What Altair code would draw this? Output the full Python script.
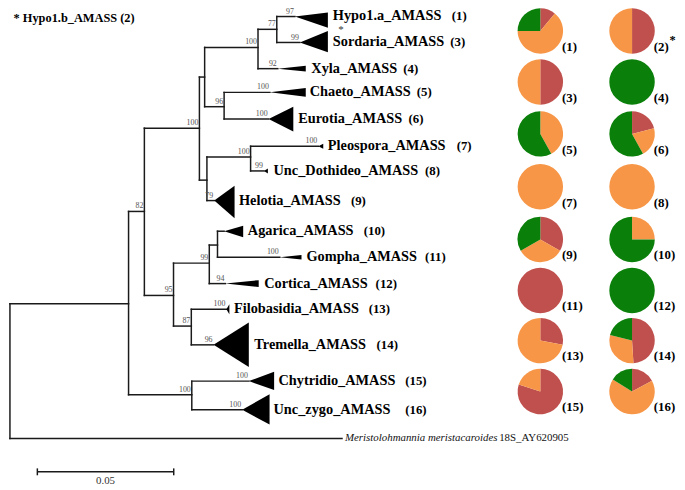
import altair as alt
import pandas as pd

# ---------------- data ----------------
# Tree nodes: name, parent, depth (x) and vertical position (y), in layout units
node_names = ["root", "A", "B", "M", "C", "I", "D", "E", "F", "G", "N77", "H", "J", "L", "K",
              "Hypo1a", "Sordaria", "Xyla", "Chaeto", "Eurotia", "Pleospora", "UncDoth", "Helotia",
              "Agarica", "Gompha", "Cortica", "Filobasidia", "Tremella", "Chytridio", "Unczygo", "Outgroup"]
node_parents = [None, "root", "A", "A", "B", "B", "C", "C", "D", "D", "F", "E", "I", "I", "J",
                "N77", "N77", "F", "G", "G", "H", "H", "E",
                "K", "K", "J", "L", "L", "M", "M", "root"]
node_x = [2.7, 130, 146, 194, 201.7, 175.5, 207, 209.3, 261, 226.7, 280, 253.5, 211.7, 193.5, 220,
          298.3, 303.3, 281, 273, 271.7, 322, 267, 216.7,
          226.7, 283, 228, 229, 216, 251.7, 245, 346]
node_y = [372, 304.3, 211, 396.5, 126.7, 296, 75, 179.3, 45, 105, 26.7, 156, 263.3, 327, 245,
          13.3, 40, 66.5, 90.5, 117.5, 145, 170, 200,
          231, 257.3, 284, 310, 346, 382.7, 411.7, 440.7]

# Bootstrap support values
support_nodes = ["B", "C", "F", "N77", "Hypo1a", "Sordaria", "Xyla", "G", "Chaeto", "Eurotia",
                 "H", "Pleospora", "UncDoth", "Helotia", "I", "J", "Cortica", "Gompha", "L",
                 "Filobasidia", "Tremella", "M", "Chytridio", "Unczygo"]
support_vals = ["82", "100", "100", "77", "97", "99", "92", "96", "100", "100",
                "100", "100", "99", "79", "95", "99", "94", "100", "87",
                "100", "96", "100", "100", "100"]

# Collapsed clades (triangle from leaf tip to right edge)
clade_leaf = ["Hypo1a", "Sordaria", "Xyla", "Chaeto", "Eurotia", "Pleospora", "UncDoth", "Helotia",
              "Agarica", "Gompha", "Cortica", "Filobasidia", "Tremella", "Chytridio", "Unczygo"]
clade_label = ["Hypo1.a_AMASS", "Sordaria_AMASS", "Xyla_AMASS", "Chaeto_AMASS", "Eurotia_AMASS",
               "Pleospora_AMASS", "Unc_Dothideo_AMASS", "Helotia_AMASS", "Agarica_AMASS",
               "Gompha_AMASS", "Cortica_AMASS", "Filobasidia_AMASS", "Tremella_AMASS",
               "Chytridio_AMASS", "Unc_zygo_AMASS"]
clade_number = ["(1)", "(3)", "(4)", "(5)", "(6)", "(7)", "(8)", "(9)", "(10)", "(11)", "(12)",
                "(13)", "(14)", "(15)", "(16)"]
clade_right = [331.7, 331.7, 309.3, 309.3, 296.7, 327, 271, 237.3, 246, 305, 261.7, 232, 251.7, 277.3, 272.7]
clade_top = [1.7, 28.3, 63.5, 86, 105, 142.5, 167.5, 185, 225.5, 255, 280.5, 305, 323.3, 373.3, 396]
clade_bottom = [25, 50, 69.5, 95, 130, 147.5, 172.5, 218, 237, 259.5, 287.5, 315, 368.3, 391.7, 426.7]
label_x = [336.7, 336.7, 315, 313.3, 301.7, 331.7, 276.7, 241.7, 250.7, 310, 267.3, 236.7, 257.3, 281.7, 276.7]
number_x = [457, 455, 401, 404, 397, 462, 430, 355, 368, 430, 380, 373, 381, 410, 410]

# Outgroup label: italic species name + accession
outgroup_parts = ["Meristolohmannia meristacaroides", "18S_AY620905"]
outgroup_x = [349, 505]

# Pie charts: proportion of each group (red, orange, green) per clade
pie_ids = ["(1)", "(2)", "(3)", "(4)", "(5)", "(6)", "(7)", "(8)", "(9)", "(10)", "(11)", "(12)",
           "(13)", "(14)", "(15)", "(16)"]
pie_red = [0.11, 0.50, 0.50, 0.00, 0.00, 0.21, 0.00, 0.00, 0.333, 0.00, 1.00, 0.00, 0.28, 0.49, 0.80, 0.17]
pie_orange = [0.64, 0.50, 0.50, 0.00, 0.42, 0.21, 1.00, 1.00, 0.333, 0.25, 0.00, 0.00, 0.72, 0.30, 0.20, 0.67]
pie_green = [0.25, 0.00, 0.00, 1.00, 0.58, 0.58, 0.00, 0.00, 0.334, 0.75, 0.00, 1.00, 0.00, 0.21, 0.00, 0.16]
pie_col_x = [546.7, 639.5]
pie_row_y = [28.3, 80, 132.5, 186, 239.3, 291, 341.7, 393.3]

groups = ["Group A", "Group B", "Group C"]
group_colors = ["#C0504D", "#F79646", "#0A800A"]

scale_bar_value = 0.05
scale_bar_start = 37.7
px_per_unit = 2760

# ---------------- text metrics (Times bold, per 1000 em) ----------------
TB = {"A": 722, "C": 722, "D": 722, "E": 667, "F": 611, "G": 778, "H": 778, "M": 944, "P": 611,
      "S": 556, "T": 667, "U": 722, "X": 722, "_": 500, ".": 250, "1": 500, "a": 500, "b": 556,
      "c": 444, "d": 556, "e": 444, "g": 500, "h": 556, "i": 278, "l": 278, "m": 833, "n": 556,
      "o": 500, "p": 556, "r": 444, "s": 389, "t": 333, "u": 556, "y": 500, "z": 444}
NAME_FS = 14.5

def text_w(s, fs):
    return sum(TB.get(ch, 556) for ch in s) * fs / 1000.0

num_x = [max(nx, lx + text_w(lb, NAME_FS) + 6) for nx, lx, lb in zip(number_x, label_x, clade_label)]

# ---------------- build tables ----------------
pos = {n: (x, y) for n, x, y in zip(node_names, node_x, node_y)}
children = {}
for n, p in zip(node_names, node_parents):
    if p is not None:
        children.setdefault(p, []).append(n)
segs = []
for n, p in zip(node_names, node_parents):
    if p is not None:
        segs.append(dict(x=pos[p][0], x2=pos[n][0], y=pos[n][1], y2=pos[n][1]))
for p, ch in children.items():
    ys = [pos[c][1] for c in ch]
    segs.append(dict(x=pos[p][0], x2=pos[p][0], y=min(ys), y2=max(ys)))
seg_df = pd.DataFrame(segs)

tri_rows = []
for leaf, r, t, b in zip(clade_leaf, clade_right, clade_top, clade_bottom):
    tx, ty = pos[leaf]
    tri_rows.append(dict(clade=leaf, x=tx, ylo=ty, yhi=ty))
    tri_rows.append(dict(clade=leaf, x=r, ylo=t, yhi=b))
tri_df = pd.DataFrame(tri_rows)

lab_df = pd.DataFrame(dict(label=clade_label, num=clade_number, lx=label_x, nx=num_x,
                           y=[pos[l][1] for l in clade_leaf]))

sup_df = pd.DataFrame(dict(x=[pos[n][0] for n in support_nodes],
                           y=[pos[n][1] for n in support_nodes], s=support_vals))

pie_rows = []
for i, pid in enumerate(pie_ids):
    cx = pie_col_x[i % 2]
    cy = pie_row_y[i // 2]
    for k, (g, v) in enumerate(zip(groups, [pie_red[i], pie_orange[i], pie_green[i]])):
        if v > 0:
            pie_rows.append(dict(pie=pid, cx=cx, cy=cy, group=g, order=k, frac=v))
pie_df = pd.DataFrame(pie_rows)
pie_lab_df = pd.DataFrame(dict(pie=pie_ids,
                               cx=[pie_col_x[i % 2] for i in range(16)],
                               cy=[pie_row_y[i // 2] for i in range(16)]))

out_y = pos["Outgroup"][1]
out_df = pd.DataFrame(dict(x=outgroup_x, y=[out_y, out_y], t=outgroup_parts))

sb_end = scale_bar_start + scale_bar_value * px_per_unit
sb_df = pd.DataFrame(dict(x=[scale_bar_start], x2=[sb_end], y=[474.3], label=[str(scale_bar_value)]))
sb_ticks = pd.DataFrame(dict(x=[scale_bar_start, sb_end], y=[471, 471], y2=[478, 478]))

# ---------------- chart ----------------
# Page coordinates map 1:1 except the strip hidden under the 8px page margin,
# which is squeezed into a few pixels so the root stays visible.
W, H = 677, 482
xs = alt.Scale(type="linear", domain=[0, 14, 685], range=[1, 6, 677], nice=False, zero=False)
ys = alt.Scale(type="linear", domain=[0, 14, 490], range=[1, 6, 482], nice=False, zero=False)
SERIF = "Liberation Serif"

def X(f):
    return alt.X(f, scale=xs, axis=None)

def Y(f, **kw):
    return alt.Y(f, scale=ys, axis=None, **kw)

branches = alt.Chart(seg_df).mark_rule(color="#1a1a1a", strokeWidth=1.5, strokeCap="square").encode(
    x=X("x:Q"), x2="x2:Q", y=Y("y:Q"), y2="y2:Q")

triangles = alt.Chart(tri_df).mark_area(fill="black", opacity=1, orient="vertical",
                                        interpolate="linear").encode(
    x=X("x:Q"), y=Y("ylo:Q", stack=None), y2="yhi:Q", detail="clade:N")

names = alt.Chart(lab_df).mark_text(align="left", baseline="middle", font=SERIF, fontSize=NAME_FS,
                                    fontWeight="bold", color="black").encode(
    x=X("lx:Q"), y=Y("y:Q"), text="label:N")

numbers = alt.Chart(lab_df).mark_text(align="left", baseline="middle", font=SERIF, fontSize=13,
                                      fontWeight="bold", color="black").encode(
    x=X("nx:Q"), y=Y("y:Q"), text="num:N")

supports = alt.Chart(sup_df).mark_text(align="right", baseline="bottom", font=SERIF, fontSize=8,
                                       color="#555555", dx=-1, dy=-1).encode(
    x=X("x:Q"), y=Y("y:Q"), text="s:N")

star_df = pd.DataFrame(dict(x=[345.0], y=[27.0], t=["*"]))
star = alt.Chart(star_df).mark_text(align="center", baseline="middle", font=SERIF, fontSize=11,
                                    color="#333333").encode(x=X("x:Q"), y=Y("y:Q"), text="t:N")

out_it = alt.Chart(out_df.iloc[[0]]).mark_text(align="left", baseline="middle", font=SERIF, fontSize=11,
                                               fontStyle="italic", color="#111111").encode(
    x=X("x:Q"), y=Y("y:Q"), text="t:N")
out_reg = alt.Chart(out_df.iloc[[1]]).mark_text(align="left", baseline="middle", font=SERIF, fontSize=11,
                                                color="#111111").encode(
    x=X("x:Q"), y=Y("y:Q"), text="t:N")

pies = alt.Chart(pie_df).transform_window(
    t1="sum(frac)", groupby=["pie"], sort=[alt.SortField("order")], frame=[None, 0]
).transform_calculate(t0="datum.t1 - datum.frac").mark_arc(outerRadius=23).encode(
    x=X("cx:Q"), y=Y("cy:Q"),
    theta=alt.Theta("t0:Q", stack=None, scale=alt.Scale(domain=[0, 1], range=[0, 6.283185307])),
    theta2="t1:Q",
    color=alt.Color("group:N", scale=alt.Scale(domain=groups, range=group_colors), legend=None))

pie_labels = alt.Chart(pie_lab_df).mark_text(align="left", baseline="middle", font=SERIF, fontSize=13,
                                             fontWeight="bold", color="black", dx=22, dy=16).encode(
    x=X("cx:Q"), y=Y("cy:Q"), text="pie:N")

note_df = pd.DataFrame(dict(x=[13.0, 677.5], y=[15.0, 38.0], t=["* Hypo1.b_AMASS (2)", "*"]))
notes = alt.Chart(note_df).mark_text(align="left", baseline="middle", font=SERIF, fontSize=12.5,
                                     fontWeight="bold", color="black").encode(
    x=X("x:Q"), y=Y("y:Q"), text="t:N")

sb_line = alt.Chart(sb_df).mark_rule(color="#1a1a1a", strokeWidth=1.5).encode(
    x=X("x:Q"), x2="x2:Q", y=Y("y:Q"))
sb_tk = alt.Chart(sb_ticks).mark_rule(color="#1a1a1a", strokeWidth=1.5).encode(
    x=X("x:Q"), y=Y("y:Q"), y2="y2:Q")
sb_txt = alt.Chart(sb_df).transform_calculate(mid="(datum.x + datum.x2) / 2").mark_text(
    align="center", baseline="middle", font=SERIF, fontSize=11, color="#333333", dy=10).encode(
    x=X("mid:Q"), y=Y("y:Q"), text="label:N")

chart = alt.layer(branches, triangles, supports, names, numbers, star, out_it, out_reg,
                  pies, pie_labels, notes, sb_line, sb_tk, sb_txt).properties(
    width=W, height=H, padding=0, autosize=alt.AutoSizeParams(type="none"), background="white"
).configure_view(stroke=None)

chart.save("out.html", embed_options={"renderer": "svg", "actions": False})
